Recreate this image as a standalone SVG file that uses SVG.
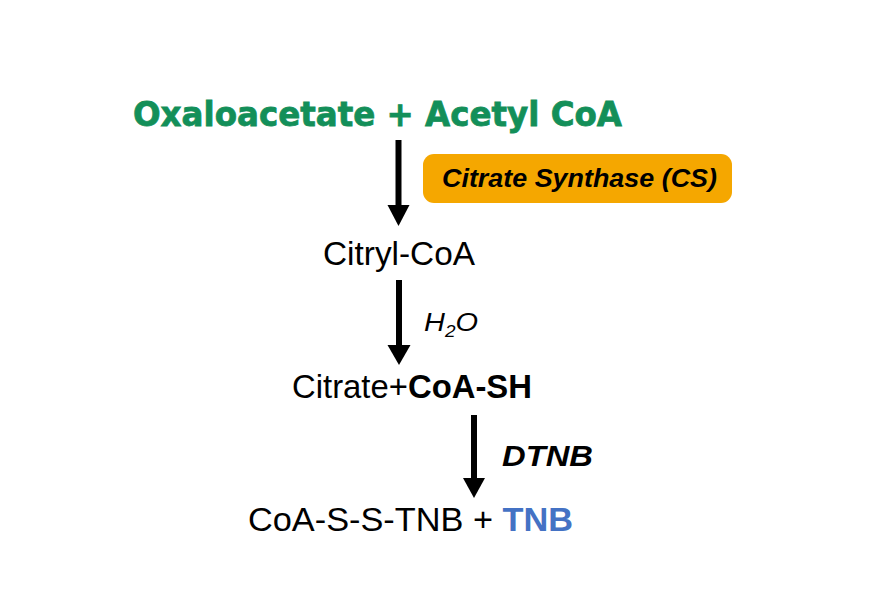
<svg xmlns="http://www.w3.org/2000/svg" width="885" height="612" viewBox="0 0 885 612">
<style>
.sans{font-family:"Liberation Sans",Arial,sans-serif;}
.reg{font-family:"Liberation Sans",Arial,sans-serif;font-size:33px;fill:#000;}
.shaft{stroke:#000;stroke-width:6;fill:none;}
.head{fill:#000;}
</style>
<rect width="885" height="612" fill="#fff"/>
<g id="connectors">
<line class="shaft" x1="398.5" y1="140" x2="398.5" y2="207"/>
<polygon class="head" points="387.5,205 409.5,205 398.5,226"/>
<line class="shaft" x1="399" y1="280" x2="399" y2="347"/>
<polygon class="head" points="387.5,345 410.5,345 399,365"/>
<line class="shaft" x1="474" y1="415" x2="474" y2="480"/>
<polygon class="head" points="463,478 485,478 474,498"/>
</g>
<g id="reactants">
<text x="133" y="126" font-family="'DejaVu Sans',sans-serif" font-weight="bold" font-size="34" fill="#138f59" stroke="#138f59" stroke-width="0.8" textLength="489" lengthAdjust="spacingAndGlyphs">Oxaloacetate + Acetyl CoA</text>
</g>
<g id="enzyme">
<rect x="423" y="154" width="309" height="49" rx="11" fill="#f5a700"/>
<text x="442" y="187" class="sans" font-weight="bold" font-style="italic" font-size="26" fill="#000" textLength="275" lengthAdjust="spacingAndGlyphs">Citrate Synthase (CS)</text>
</g>
<g id="citryl-coa">
<text x="323" y="265" class="reg" textLength="152" lengthAdjust="spacingAndGlyphs">Citryl-CoA</text>
</g>
<g id="water">
<text x="424" y="331" class="sans" font-style="italic" font-size="26" fill="#000" textLength="54" lengthAdjust="spacingAndGlyphs">H<tspan font-size="17" dy="6">2</tspan><tspan dy="-6">O</tspan></text>
</g>
<g id="citrate">
<text x="292" y="398" class="reg" textLength="240" lengthAdjust="spacingAndGlyphs">Citrate+<tspan font-weight="bold">CoA-SH</tspan></text>
</g>
<g id="dtnb">
<text x="502" y="466" class="sans" font-weight="bold" font-style="italic" font-size="30" fill="#000" textLength="91" lengthAdjust="spacingAndGlyphs">DTNB</text>
</g>
<g id="products">
<text x="248" y="531" class="reg" textLength="325" lengthAdjust="spacingAndGlyphs">CoA-S-S-TNB + <tspan font-weight="bold" fill="#4472c4">TNB</tspan></text>
</g>
</svg>
